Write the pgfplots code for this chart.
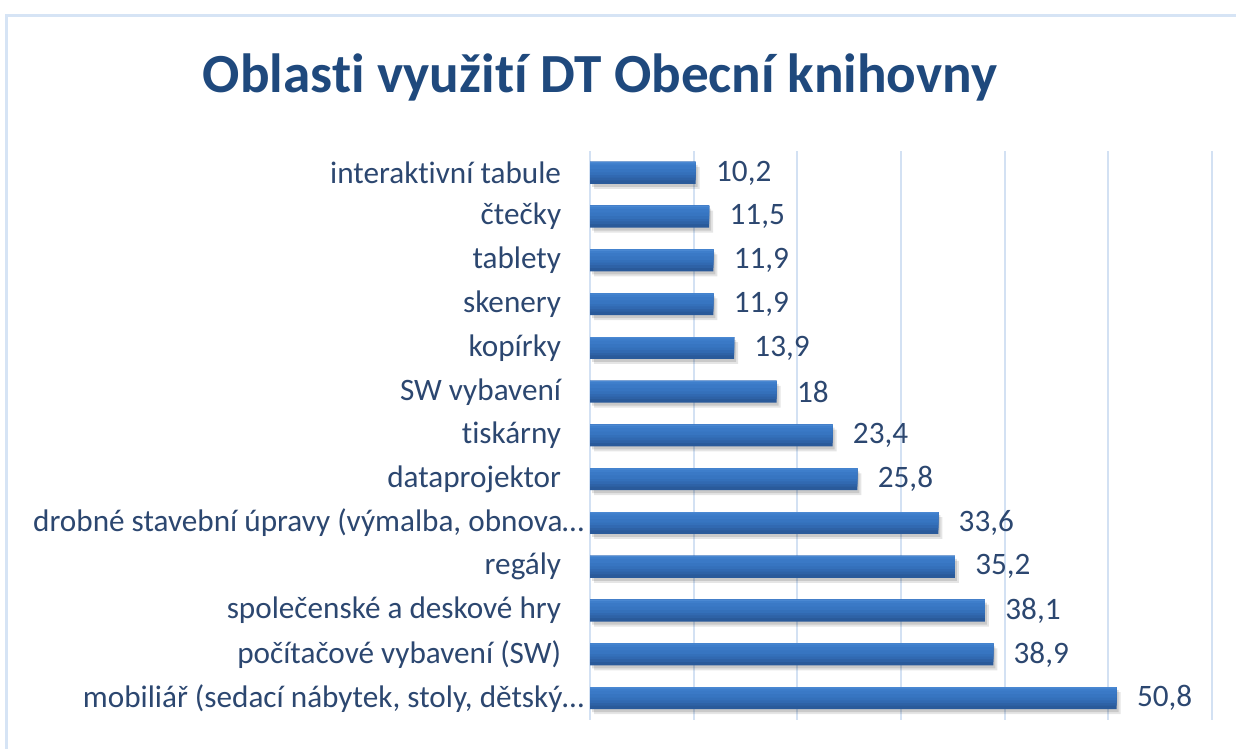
\documentclass[border=0pt]{standalone}
\usepackage{fontspec}
\setmainfont{Carlito}[Ligatures={NoCommon}]
\usepackage{pgfplots}
\usepackage{pgfplotstable}
\pgfplotsset{compat=1.18}
\definecolor{txt}{HTML}{2C4770}
\definecolor{ttl}{HTML}{1F497D}
\definecolor{grd}{HTML}{D3E1F3}
\definecolor{frm}{HTML}{D6E4F5}
\definecolor{b0}{HTML}{2A5A9A}
\definecolor{b1}{HTML}{2E62A6}
\definecolor{b2}{HTML}{3169B1}
\definecolor{b3}{HTML}{3470BA}
\definecolor{b4}{HTML}{3775C1}
\definecolor{b5}{HTML}{3A79C6}
\definecolor{b6}{HTML}{3E7ECB}
\definecolor{b7}{HTML}{4A88D2}
\pgfplotstableread{
idx val
0 10.2
1 11.5
2 11.9
3 11.9
4 13.9
5 18
6 23.4
7 25.8
8 33.6
9 35.2
10 38.1
11 38.9
12 50.8
}\datatable
\newcommand{\pad}{\hspace*{11.5pt}}
\begin{document}
\begin{tikzpicture}
\path[use as bounding box] (0,0) rectangle (618pt,-374.5pt);
\draw[frm, line width=1.5pt] (3pt,-374.5pt) -- (3pt,-8pt) -- (618pt,-8pt);
\node[anchor=base, font=\fontsize{27.6}{32}\selectfont\bfseries, text=ttl, inner sep=0] at (300pt,-46.5pt) {Oblasti využití DT Obecní knihovny};
\begin{axis}[
  at={(295pt,-360pt)}, anchor=south west,
  width=311pt, height=284.5pt, scale only axis,
  xbar, xmin=0, xmax=60, ymin=-0.5, ymax=12.5, y dir=reverse,
  xtick={0,10,...,60}, xticklabels={}, xmajorgrids,
  major grid style={grd, line width=1pt},
  ytick={0,...,12},
  yticklabels={{interaktivní tabule\pad},{čtečky\pad},{tablety\pad},{skenery\pad},{kopírky\pad},{SW vybavení\pad},{tiskárny\pad},{dataprojektor\pad},{drobné stavební úpravy (výmalba, obnova…},{regály\pad},{společenské a deskové hry\pad},{počítačové vybavení (SW)\pad},{mobiliář (sedací nábytek, stoly, dětský…}},
  axis line style={draw=none}, tick style={draw=none},
  yticklabel style={font=\fontsize{15.6}{18}\selectfont, text=txt, anchor=east, inner sep=0, xshift=1.5pt},
  clip=false,
  /pgf/number format/.cd, use comma, fixed, precision=1, assume math mode=true,
]
\addplot[bar width=0.5, bar shift=0, draw=none, fill=black, fill opacity=0.10, xshift=2pt, yshift=-2.5pt] table[x=val,y=idx] {\datatable};
\addplot[bar width=0.5, bar shift=0, draw=none, fill=black, fill opacity=0.12, xshift=1pt, yshift=-1.5pt] table[x=val,y=idx] {\datatable};
\addplot[bar width=0.5, bar shift=0, draw=none, fill=b0,
  nodes near coords,
  every node near coord/.append style={font=\fontsize{15.6}{18}\selectfont, text=txt, anchor=west, inner sep=0, xshift=10pt}
  ] table[x=val,y=idx] {\datatable};
\addplot[bar width=0.42, bar shift=-0.04, draw=none, fill=b1] table[x=val,y=idx] {\datatable};
\addplot[bar width=0.36, bar shift=-0.07, draw=none, fill=b2] table[x=val,y=idx] {\datatable};
\addplot[bar width=0.30, bar shift=-0.10, draw=none, fill=b3] table[x=val,y=idx] {\datatable};
\addplot[bar width=0.24, bar shift=-0.13, draw=none, fill=b4] table[x=val,y=idx] {\datatable};
\addplot[bar width=0.16, bar shift=-0.17, draw=none, fill=b5] table[x=val,y=idx] {\datatable};
\addplot[bar width=0.08, bar shift=-0.21, draw=none, fill=b6] table[x=val,y=idx] {\datatable};
\addplot[bar width=0.03, bar shift=-0.235, draw=none, fill=b7] table[x=val,y=idx] {\datatable};
\end{axis}
\end{tikzpicture}
\end{document}
